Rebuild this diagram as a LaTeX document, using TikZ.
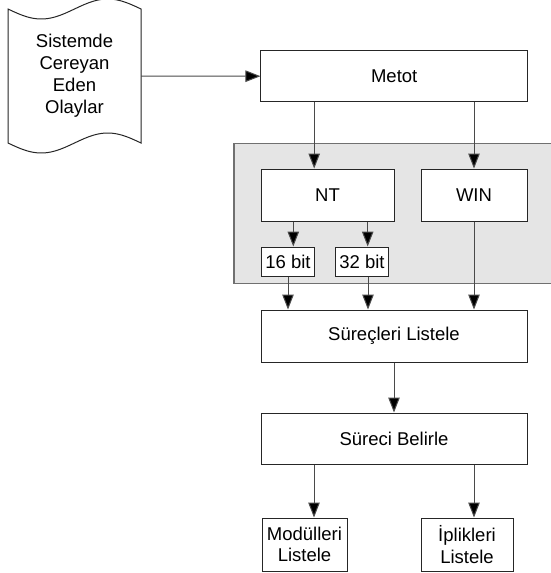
\documentclass[tikz,border=0pt]{standalone}
\usepackage{fontspec}
\setmainfont{Liberation Sans}
\usetikzlibrary{arrows.meta,calc}
\definecolor{panelfill}{HTML}{E5E5E5}
\definecolor{panelline}{HTML}{707070}
\definecolor{wire}{HTML}{4A4A4A}
\begin{document}
\begin{tikzpicture}[x=1pt,y=-1pt,
  box/.style={draw=black!85, line width=1pt, fill=white, inner sep=0pt,
    font=\fontsize{18.5}{21.5}\selectfont, align=center},
  arr/.style={draw=wire, line width=1pt,
    -{Triangle[length=15pt,width=11.5pt,fill=black]}},
]
\useasboundingbox (0,0) rectangle (550,573);

% grey panel holding the platform choices
\draw[fill=panelfill, draw=panelline, line width=1.3pt] (234,143.5) rectangle (560,283.5);

% event source drawn as a punched tape (one sine period along top and bottom)
\draw[draw=black!85, line width=1pt, fill=white]
  (8,9) -- (8,143)
  -- plot[domain=8:141, samples=60] (\x,{143+10*sin(2.70677*(\x-8))})
  -- (141,9)
  -- plot[domain=141:8, samples=60] (\x,{9+10*sin(2.70677*(\x-8))})
  -- cycle;
\node[inner sep=0pt, minimum width=133pt, minimum height=134pt, align=center,
  font=\fontsize{18.5}{22}\selectfont] (events) at (74.5,76)
  {Sistemde\\Cereyan\\Eden\\Olaylar};

% process boxes
\node[box, minimum width=266.5pt, minimum height=51pt] (metot) at (394.2,76.2) {Metot};
\node[box, minimum width=133pt, minimum height=52pt] (nt) at (327.5,195) {NT};
\node[box, minimum width=106pt, minimum height=52pt] (win) at (474,195) {WIN};
\node[box, minimum width=52.6pt, minimum height=29pt] (b16) at (288,261.5) {16 bit};
\node[box, minimum width=52.6pt, minimum height=29pt] (b32) at (362,261.5) {32 bit};
\node[box, minimum width=266pt, minimum height=52pt] (list) at (394,336) {Süreçleri Listele};
\node[box, minimum width=266pt, minimum height=51pt] (pick) at (394,438.5) {Süreci Belirle};
\node[box, minimum width=85pt, minimum height=53pt] (mods) at (304.5,544.5) {Modülleri\\Listele};
\node[box, minimum width=92pt, minimum height=53pt] (thr) at (467,544.5) {İplikleri\\Listele};

% connector anchors
\coordinate (mL) at ([xshift=-80pt]metot.south);
\coordinate (n16) at ([xshift=5.3pt]b16.north);
\coordinate (n32) at ([xshift=5.7pt]b32.north);
\coordinate (s32) at ([xshift=6pt]b32.south);
\coordinate (pL) at ([xshift=-80pt]pick.south);
\coordinate (pR) at ([xshift=80pt]pick.south);

% connectors
\draw[arr] (events.east) -- (metot.west);
\draw[arr] (mL) -- (mL |- nt.north);
\draw[arr] (win.north |- metot.south) -- (win.north);
\draw[arr] (n16 |- nt.south) -- (n16);
\draw[arr] (n32 |- nt.south) -- (n32);
\draw[arr] (b16.south) -- (b16.south |- list.north);
\draw[arr] (s32) -- (s32 |- list.north);
\draw[arr] (win.south) -- (win.south |- list.north);
\draw[arr] (list.south) -- (pick.north);
\draw[arr] (pL) -- (pL |- mods.north);
\draw[arr] (pR) -- (pR |- thr.north);
\end{tikzpicture}
\end{document}
